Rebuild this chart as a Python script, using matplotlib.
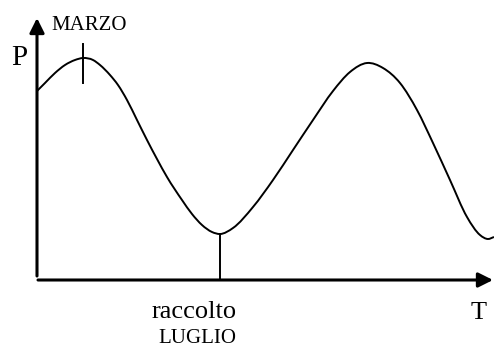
import matplotlib.pyplot as plt
import numpy as np
from matplotlib.path import Path
from matplotlib.patches import PathPatch

plt.rcParams['font.family'] = ['Liberation Serif', 'DejaVu Serif']

# price curve over the year, origin at the corner of the axes
t = [0, 8, 18, 28, 38, 46, 56, 63, 73, 81, 90, 100, 110, 120, 130, 145,
     155, 165, 175, 183, 196, 216, 236, 256, 276, 296, 313, 330, 346,
     363, 380, 396, 413, 430, 443, 451, 457]
p = [189, 197, 207, 215, 220, 222, 220, 215, 205, 195, 180, 160, 140,
     121, 103, 80, 66, 55, 48, 46, 52, 73, 100, 130, 160, 189, 208, 217,
     212, 197, 170, 137, 100, 63, 45, 41, 43]

marzo_t = 46
luglio_t = 183


def smooth_path(xs, ys):
    # cubic Hermite through the points (slopes from neighbours), as Bezier segments
    x = np.asarray(xs, float)
    y = np.asarray(ys, float)
    m = np.gradient(y, x)
    verts = [(x[0], y[0])]
    codes = [Path.MOVETO]
    for i in range(len(x) - 1):
        h = x[i + 1] - x[i]
        verts += [(x[i] + h / 3, y[i] + m[i] * h / 3),
                  (x[i + 1] - h / 3, y[i + 1] - m[i + 1] * h / 3),
                  (x[i + 1], y[i + 1])]
        codes += [Path.CURVE4] * 3
    return Path(verts, codes)


fig = plt.figure(figsize=(4.94, 3.47), dpi=100)
ax = fig.add_axes([0, 0, 1, 1])
ax.set_xlim(-37, 457)
ax.set_ylim(-67, 280)
ax.axis('off')

ax.add_patch(PathPatch(smooth_path(t, p), fill=False, edgecolor='black', lw=1.4))

# axes with arrow heads
arrow = dict(arrowstyle='-|>', lw=2.2, color='black', mutation_scale=22,
             shrinkA=0, shrinkB=0)
ax.annotate('', xy=(0, 262), xytext=(0, 4), arrowprops=arrow)
ax.annotate('', xy=(456, 0), xytext=(1, 0), arrowprops=arrow)

# season markers
ax.plot([marzo_t, marzo_t], [197, 236], color='black', lw=1.4)
p_luglio = np.interp(luglio_t, t, p)
ax.plot([luglio_t, luglio_t], [0, p_luglio], color='black', lw=1.4)

ax.text(-17.5, 215, 'P', fontsize=21, ha='center', va='baseline')
ax.text(441.5, -39, 'T', fontsize=19, ha='center', va='baseline')
ax.text(52, 250, 'MARZO', fontsize=15, ha='center', va='baseline')
ax.text(157, -38, 'raccolto', fontsize=19, ha='center', va='baseline')
ax.text(160, -63, 'LUGLIO', fontsize=15, ha='center', va='baseline')

fig.savefig('out.png', dpi=100)
